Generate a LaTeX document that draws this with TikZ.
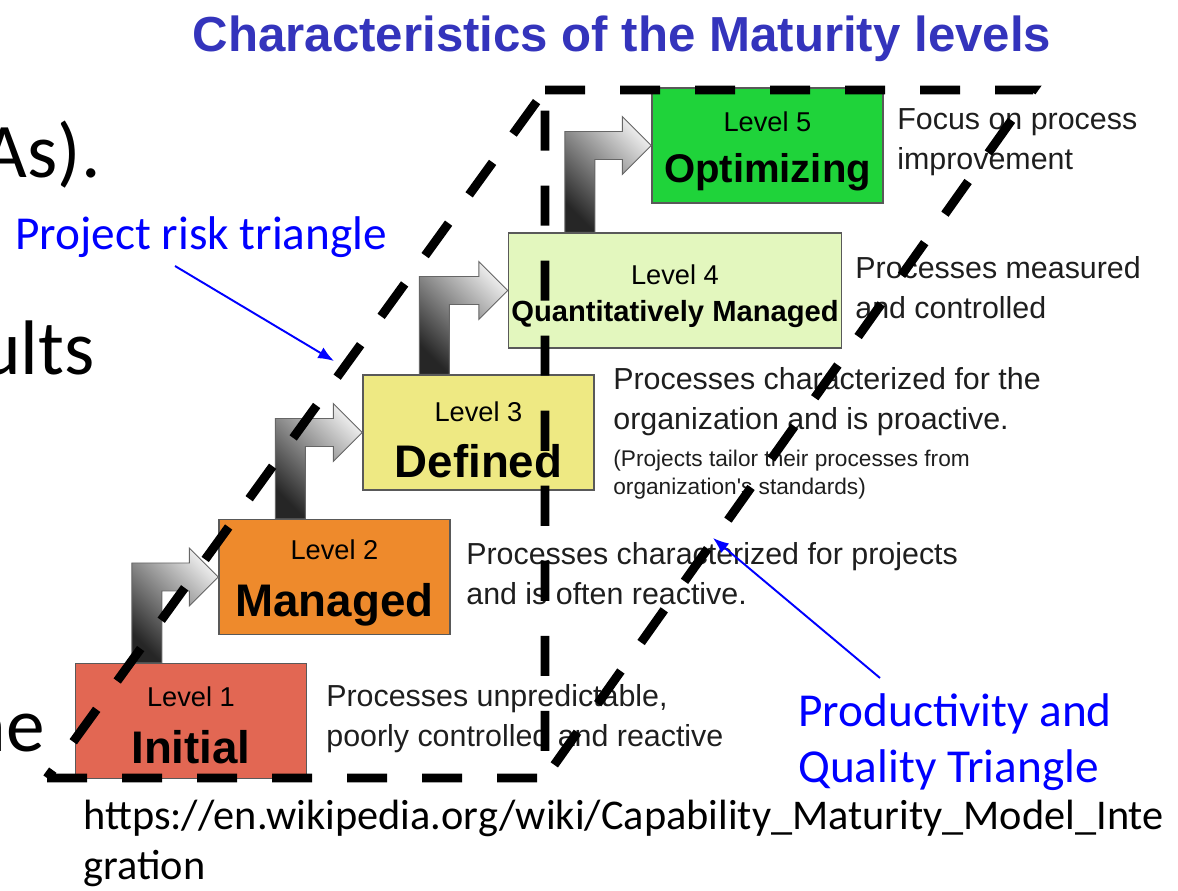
\documentclass[tikz,border=0pt]{standalone}
\usepackage{fontspec}
\setmainfont{Liberation Sans}
\newfontfamily\slidefont{Carlito}
\usetikzlibrary{calc,arrows.meta}

\definecolor{titleblue}{RGB}{52,52,188}
\definecolor{lvlone}{RGB}{226,103,83}
\definecolor{lvltwo}{RGB}{238,138,44}
\definecolor{lvlthree}{RGB}{238,233,131}
\definecolor{lvlfour}{RGB}{227,247,190}
\definecolor{lvlfive}{RGB}{31,211,58}
\definecolor{desctext}{RGB}{30,30,30}

\newcommand{\fs}[2]{\fontsize{#1}{#2}\selectfont}

% bent block arrow: up out of one box, then right into the next
\newcommand{\stepup}[2]{%
  \path ($(#1.north west)+(57,0)$) coordinate (sa)
        ($(#1.north west)+(87,0)$) coordinate (sb)
        (#2.west) coordinate (tip);
  \shade[steparrow] (sa) -- ($(sa |- tip)+(0,-14)$) -- ($(tip)+(-29,-14)$)
    -- ($(tip)+(-29,-29)$) -- (tip) -- ($(tip)+(-29,29)$) -- ($(tip)+(-29,14)$)
    -- ($(sb |- tip)+(0,14)$) -- (sb) -- cycle;}

\tikzset{
  lvlbox/.style={draw=black!65, line width=0.8pt, minimum width=4.62cm,
    minimum height=2.3cm, inner sep=0pt},
  lvltxt/.style={anchor=base, inner sep=0pt, font=\fs{15.5}{18}},
  lvlname/.style={anchor=base, inner sep=0pt, font=\fs{26}{30}\bfseries},
  desc/.style={anchor=base west, align=left, inner sep=0pt, text=desctext,
    font=\fs{17.3}{22.8}},
  steparrow/.style={draw=black!60, line width=0.5pt, top color=black!8,
    bottom color=black!85, shading angle=-45},
  triline/.style={line width=5.1pt, dash pattern=on 22.8pt off 19.9pt},
  bluenote/.style={anchor=base west, align=left, inner sep=0pt, text=blue,
    font=\slidefont\fs{26.9}{32}},
  bluearrow/.style={blue, line width=1.1pt, -{Latex[length=9pt,width=7pt]}},
  slidetxt/.style={inner sep=0pt, font=\slidefont\fs{44}{50}}
}

\begin{document}
\begin{tikzpicture}[x=0.02cm, y=-0.02cm]
  \useasboundingbox (0,0) rectangle (1178,891);

  \node[font=\fs{28}{32}\bfseries, text=titleblue, anchor=base, inner sep=0pt]
    (title) at (622,52) {Characteristics of the Maturity levels};

  % pieces of the slide text behind the figure
  \node[slidetxt, anchor=base east] (frag1) at (101,178) {As).};
  \node[slidetxt, anchor=base east] (frag2) at (95,375) {ults};
  \node[slidetxt, anchor=base east] (frag3) at (45,752) {ne};

  % the five levels
  \node[lvlbox, fill=lvlone] (l1) at (191,721) {};
  \node[lvlbox, fill=lvltwo] (l2) at (334.5,577) {};
  \node[lvlbox, fill=lvlthree] (l3) at (478.5,432.5) {};
  \node[lvlbox, fill=lvlfour, minimum width=6.66cm] (l4) at (675,290.5) {};
  \node[lvlbox, fill=lvlfive] (l5) at (767.5,145.5) {};

  \stepup{l1}{l2}
  \stepup{l2}{l3}
  \stepup{l3}{l4}
  \stepup{l4}{l5}

  \node[lvltxt] (l1a) at ($(l1.north)+(0,44)$) {Level 1};
  \node[lvlname] (l1b) at ($(l1.north)+(0,101)$) {Initial};
  \node[lvltxt] (l2a) at ($(l2.north)+(0,41)$) {Level 2};
  \node[lvlname] (l2b) at ($(l2.north)+(0,98)$) {Managed};
  \node[lvltxt] (l3a) at ($(l3.north)+(0,47)$) {Level 3};
  \node[lvlname] (l3b) at ($(l3.north)+(0,103)$) {Defined};
  \node[lvltxt] (l4a) at ($(l4.north)+(0,52)$) {Level 4};
  \node[lvlname, font=\fs{16.6}{20}\bfseries] (l4b) at ($(l4.north)+(0,89)$) {Quantitatively Managed};
  \node[lvltxt] (l5a) at ($(l5.north)+(0,44)$) {Level 5};
  \node[lvlname, font=\fs{22.8}{26}\bfseries] (l5b) at ($(l5.north)+(0,95)$) {Optimizing};

  % what each level means (placed by the last line's baseline)
  \node[desc] (d1) at (326,747) {Processes unpredictable,\\poorly controlled and reactive};
  \node[desc] (d2) at (466,605) {Processes characterized for projects\\and is often reactive.};
  \node[desc] (d3) at (613,430) {Processes characterized for the\\organization and is proactive.};
  \node[desc, font=\fs{12.9}{16.5}] (d3b) at (613,495) {(Projects tailor their processes from\\organization\textquotesingle s standards)};
  \node[desc] (d4) at (855,319) {Processes measured\\and controlled};
  \node[desc] (d5) at (897,170) {Focus on process\\improvement};

  % the two triangles
  \coordinate (pa) at (47,778);
  \coordinate (pb) at (545,90);
  \coordinate (pc) at (545,778);
  \coordinate (pd) at (1033,90);
  \draw[triline] (pa) -- (pc) -- (pb) -- cycle;
  \draw[triline] (pb) -- (pd) -- (pc);

  \node[bluenote] (risk) at (15,250) {Project risk triangle};
  \node[bluenote] (pq) at (798,783) {Productivity and\\Quality Triangle};
  \coordinate (riskfrom) at (175,266);
  \coordinate (riskto) at (334,361);
  \coordinate (pqfrom) at (880,678);
  \coordinate (pqto) at (713,538);
  \draw[bluearrow] (riskfrom) -- (riskto);
  \draw[bluearrow] (pqfrom) -- (pqto);

  \node[anchor=base west, align=left, inner sep=0pt, font=\slidefont\fs{24.1}{28.5}]
    (src) at (83,880) {https://en.wikipedia.org/wiki/Capability\_Maturity\_Model\_Inte\\gration};
\end{tikzpicture}
\end{document}
